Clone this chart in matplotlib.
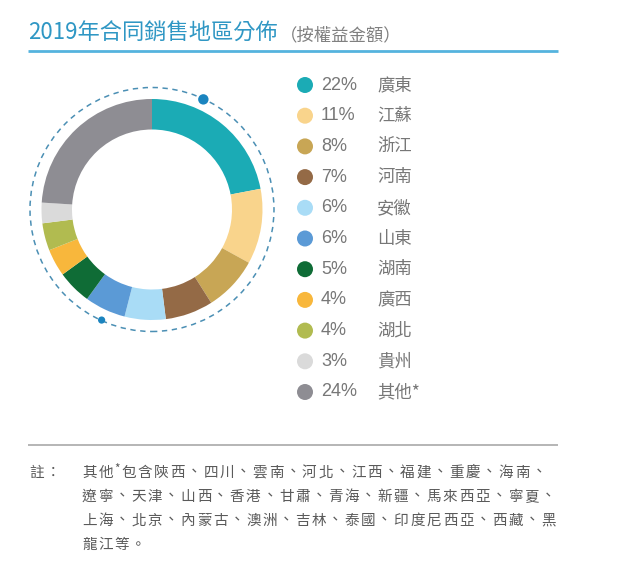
import matplotlib
matplotlib.use('Agg')
import matplotlib.pyplot as plt
from matplotlib.patches import Circle
import numpy as np

plt.rcParams['font.family'] = ['Noto Sans CJK TC', 'DejaVu Sans']

# data
regions = ['廣東', '江蘇', '浙江', '河南', '安徽', '山東', '湖南', '廣西', '湖北', '貴州', '其他*']
shares = [22, 11, 8, 7, 6, 6, 5, 4, 4, 3, 24]
colors = ['#1babb5', '#f9d48c', '#c8a655', '#946a46', '#a9dcf6', '#5b9ad6',
          '#0f6c36', '#f8b73c', '#b1bb50', '#dadada', '#8e8d93']
title = '2019年合同銷售地區分佈'
subtitle = '（按權益金額）'
note_label = '註：'
note_lines = ['其他*包含陝西、四川、雲南、河北、江西、福建、重慶、海南、',
              '遼寧、天津、山西、香港、甘肅、青海、新疆、馬來西亞、寧夏、',
              '上海、北京、內蒙古、澳洲、吉林、泰國、印度尼西亞、西藏、黑',
              '龍江等。']

W, H = 640, 569
fig = plt.figure(figsize=(6.4, 5.69), dpi=100)
ax = fig.add_axes([0, 0, 1, 1])


def Y(y):  # pixel row (from top) -> data y
    return H - y


# donut
cx, cy, R = 152, Y(209.5), 110.5
ax.pie(shares, colors=colors, startangle=90, counterclock=False, radius=R,
       center=(cx, cy), wedgeprops=dict(width=30.5, linewidth=0), frame=True)

# dashed orbit with two dots
ax.add_patch(Circle((cx, cy), 122, fill=False, ls=(0, (3.5, 3)), lw=1.1,
                    color='#4b8fb4'))
for ang, r in [(65, 5.2), (245.5, 3.6)]:
    a = np.radians(ang)
    ax.add_patch(Circle((cx + 121.5 * np.cos(a), cy + 121.5 * np.sin(a)), r,
                        color='#1b84bf', lw=0))

# legend
for i, (name, val, c) in enumerate(zip(regions, shares, colors)):
    y = Y(85 + i * 30.7)
    ax.add_patch(Circle((305, y), 8, color=c, lw=0))
    ax.text(321, y, f'{val}%', fontsize=13, color='#777777', va='center',
            family=['Liberation Sans', 'DejaVu Sans'])
    ax.text(377, y, name, fontsize=12.5, color='#777777', va='center',
            fontweight='light')

# title
ax.text(28, Y(40), title, fontsize=16, color='#2f97c4', va='baseline')
ax.text(280, Y(40), subtitle, fontsize=12.5, color='#808080', va='baseline')
ax.plot([28, 558], [Y(51), Y(51)], color='#55b3de', lw=2, solid_capstyle='butt')

# note
ax.plot([28, 558], [Y(445), Y(445)], color='#b0b0b0', lw=1.3, solid_capstyle='butt')
pitch = 16.4
row_y = [472.7, 496.7, 520.5, 545]
ax.text(29, Y(row_y[0]), note_label[0], fontsize=10.5, color='#5a5a5a', va='center')
ax.text(29 + pitch, Y(row_y[0]), note_label[1], fontsize=10.5, color='#5a5a5a', va='center')
for line, ry in zip(note_lines, row_y):
    x = 82
    for ch in line:
        if ch == '*':
            ax.text(x - 1, Y(ry - 3), ch, fontsize=8.5, color='#5a5a5a', va='center')
            x += pitch * 0.4
            continue
        ax.text(x, Y(ry), ch, fontsize=10.5, color='#5a5a5a', va='center')
        x += pitch

ax.set_xlim(0, W)
ax.set_ylim(0, H)
ax.set_aspect('equal')
ax.axis('off')
fig.savefig('out.png', dpi=100, facecolor='white')
